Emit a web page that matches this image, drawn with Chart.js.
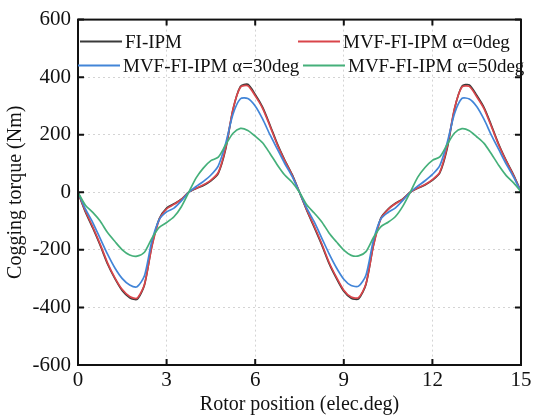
<!DOCTYPE html>
<html>
<head>
<meta charset="utf-8">
<script src="https://cdn.jsdelivr.net/npm/chart.js@4.4.1/dist/chart.umd.min.js"></script>
<style>
  html, body { margin: 0; padding: 0; background: #fff; }
  #wrap { width: 536px; height: 419px; }
</style>
</head>
<body>
<div id="wrap"><canvas id="torque" width="536" height="419"></canvas></div>
<script>
// rotor position, elec.deg
const rotorPos = [
  0, 0.25, 0.5, 0.75, 1, 1.25, 1.5, 1.75, 2, 2.25, 2.5, 2.75, 3, 3.25, 3.5, 3.75,
  4, 4.25, 4.5, 4.75, 5, 5.25, 5.5, 5.75, 6, 6.25, 6.5, 6.75, 7, 7.25, 7.5,
  7.75, 8, 8.25, 8.5, 8.75, 9, 9.25, 9.5, 9.75, 10, 10.25, 10.5, 10.75, 11, 11.25,
  11.5, 11.75, 12, 12.25, 12.5, 12.75, 13, 13.25, 13.5, 13.75, 14, 14.25, 14.5, 14.75, 15
];

// cogging torque, Nm
const fiIpm = [
  0, -68, -124, -184, -249, -300, -342, -366, -372, -322, -186, -92, -55, -40, -24, 0,
  13, 24, 40, 66, 150, 288, 368, 375, 340, 296, 234, 168, 112, 62, 0,
  -64, -122, -182, -247, -299, -344, -368, -370, -320, -185, -90, -58, -38, -23, 0,
  14, 25, 42, 67, 152, 290, 369, 373, 337, 294, 232, 166, 110, 60, 2
];
const mvfA0 = [
  0, -65, -120, -180, -245, -297, -338, -362, -368, -320, -190, -95, -58, -42, -25, 0,
  14, 26, 42, 69, 155, 290, 365, 370, 335, 292, 230, 165, 110, 60, 0,
  -62, -118, -178, -243, -295, -340, -364, -366, -318, -188, -93, -60, -40, -24, 0,
  15, 27, 44, 70, 158, 292, 366, 368, 332, 290, 228, 163, 108, 58, 2
];
const mvfA30 = [
  0, -58, -105, -160, -215, -263, -300, -322, -328, -290, -170, -95, -68, -55, -30, 0,
  20, 38, 60, 92, 170, 272, 325, 326, 300, 255, 200, 150, 100, 55, 0,
  -56, -103, -158, -213, -262, -302, -324, -326, -288, -168, -93, -70, -54, -28, 0,
  21, 40, 62, 93, 172, 274, 326, 324, 298, 253, 198, 148, 98, 53, 2
];
const mvfA50 = [
  0, -45, -70, -100, -140, -171, -200, -218, -222, -208, -160, -122, -105, -85, -50, 0,
  50, 85, 110, 122, 165, 205, 222, 215, 195, 172, 135, 95, 60, 35, 0,
  -44, -72, -102, -141, -172, -201, -219, -221, -206, -158, -120, -104, -84, -48, 0,
  52, 86, 111, 123, 166, 206, 221, 214, 193, 170, 133, 93, 58, 33, 2
];

const seriesNames = ["FI-IPM", "MVF-FI-IPM \u03b1=0deg", "MVF-FI-IPM \u03b1=30deg", "MVF-FI-IPM \u03b1=50deg"];
const seriesColors = ["#3a3a3a", "#d9454a", "#4285d8", "#45b07a"];
const xTicks = [0, 3, 6, 9, 12, 15];
const yTicks = [-600, -400, -200, 0, 200, 400, 600];

const SERIF = "'Liberation Serif', 'DejaVu Serif', serif";

function toPoints(values) {
  return rotorPos.map((x, i) => ({ x: x, y: values[i] }));
}

// frame, inward ticks, legend and axis titles
const framePlugin = {
  id: "frame",
  afterDraw(chart) {
    const ctx = chart.ctx;
    const a = chart.chartArea;
    const xs = chart.scales.x;
    const ys = chart.scales.y;
    ctx.save();

    ctx.strokeStyle = "#111";
    ctx.lineWidth = 2;
    ctx.setLineDash([]);
    ctx.strokeRect(a.left, a.top, a.right - a.left, a.bottom - a.top);

    const tl = 6;
    ctx.beginPath();
    xTicks.forEach((t) => {
      const px = xs.getPixelForValue(t);
      ctx.moveTo(px, a.bottom); ctx.lineTo(px, a.bottom - tl);
      ctx.moveTo(px, a.top); ctx.lineTo(px, a.top + tl);
    });
    yTicks.forEach((t) => {
      const py = ys.getPixelForValue(t);
      ctx.moveTo(a.left, py); ctx.lineTo(a.left + tl, py);
      ctx.moveTo(a.right, py); ctx.lineTo(a.right - tl, py);
    });
    ctx.stroke();

    // legend, two columns
    const items = [
      { i: 0, x: a.left + 2, y: a.top + 22 },
      { i: 1, x: a.left + 220, y: a.top + 22 },
      { i: 2, x: a.left + 0, y: a.top + 46 },
      { i: 3, x: a.left + 225, y: a.top + 46 },
    ];
    ctx.font = "19px " + SERIF;
    ctx.textBaseline = "middle";
    ctx.textAlign = "left";
    items.forEach((it) => {
      ctx.strokeStyle = seriesColors[it.i];
      ctx.lineWidth = 2;
      ctx.beginPath();
      ctx.moveTo(it.x, it.y);
      ctx.lineTo(it.x + 42, it.y);
      ctx.stroke();
      ctx.fillStyle = "#111";
      ctx.fillText(seriesNames[it.i], it.x + 45, it.y + 1);
    });

    // axis titles
    ctx.font = "20px " + SERIF;
    ctx.fillStyle = "#111";
    ctx.textAlign = "center";
    ctx.fillText("Rotor position (elec.deg)", (a.left + a.right) / 2, 405);
    ctx.translate(16, (a.top + a.bottom) / 2);
    ctx.rotate(-Math.PI / 2);
    ctx.fillText("Cogging torque (Nm)", 0, 0);

    ctx.restore();
  },
};

const values = [fiIpm, mvfA0, mvfA30, mvfA50];
const drawOrder = [4, 3, 2, 1];

new Chart(document.getElementById("torque"), {
  type: "line",
  data: {
    datasets: values.map((v, i) => ({
      label: seriesNames[i],
      data: toPoints(v),
      borderColor: seriesColors[i],
      borderWidth: 1.7,
      pointRadius: 0,
      fill: false,
      tension: 0.25,
      order: drawOrder[i],
    })),
  },
  options: {
    responsive: false,
    animation: false,
    events: [],
    layout: { padding: { top: 15, right: 15, left: 0, bottom: 0 } },
    plugins: {
      legend: { display: false },
      tooltip: { enabled: false },
    },
    scales: {
      x: {
        type: "linear",
        min: 0,
        max: 15,
        afterBuildTicks: (s) => { s.ticks = xTicks.map((v) => ({ value: v })); },
        afterFit: (s) => { s.height = 54; },
        ticks: {
          color: "#111",
          font: { family: SERIF, size: 21 },
          padding: 3,
          maxRotation: 0,
          callback: (v) => String(v),
        },
        grid: { color: "#d4d4d4", lineWidth: 1, drawTicks: false },
        border: { display: false, dash: [2, 3] },
      },
      y: {
        min: -600,
        max: 600,
        afterBuildTicks: (s) => { s.ticks = yTicks.map((v) => ({ value: v })); },
        afterFit: (s) => { s.width = 78; },
        ticks: {
          color: "#111",
          font: { family: SERIF, size: 21 },
          padding: 7,
          callback: (v) => String(v),
        },
        grid: { color: "#d4d4d4", lineWidth: 1, drawTicks: false },
        border: { display: false, dash: [2, 3] },
      },
    },
  },
  plugins: [framePlugin],
});
</script>
</body>
</html>
